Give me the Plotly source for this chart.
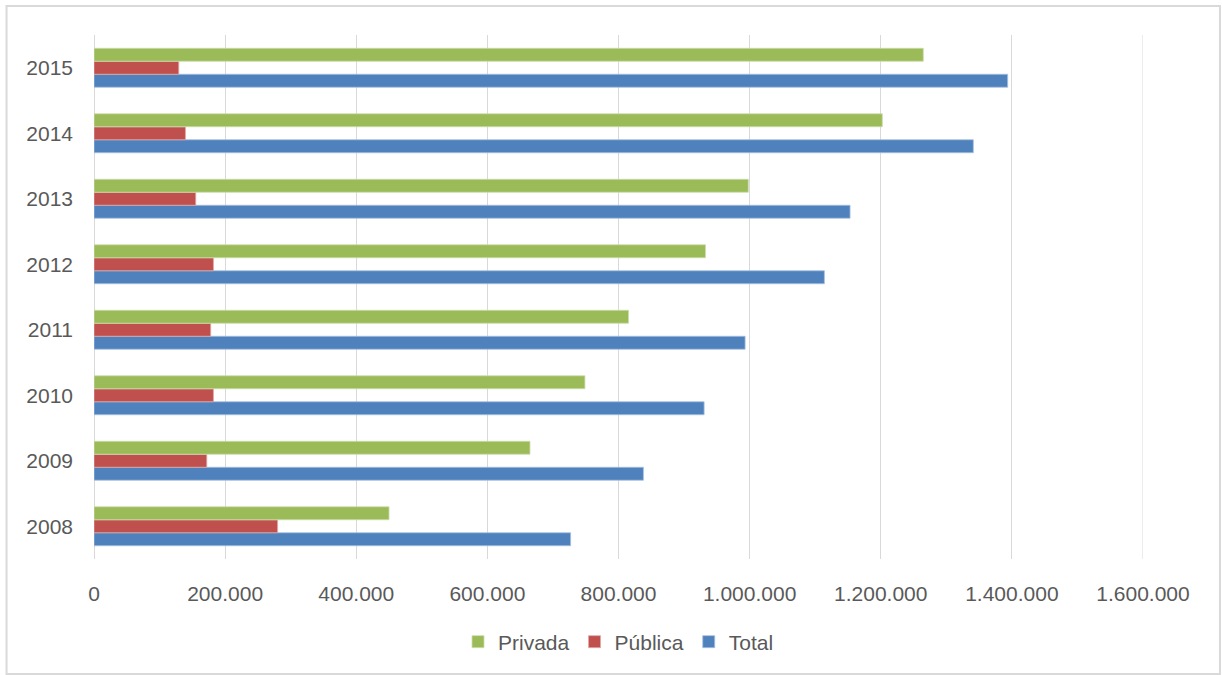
import plotly.graph_objects as go

years = ["2008", "2009", "2010", "2011", "2012", "2013", "2014", "2015"]
total = [727000, 838000, 930600, 993100, 1114000, 1153200, 1341200, 1393600]
publica = [280000, 172000, 182200, 178000, 182200, 155200, 139500, 129300]
privada = [450000, 665000, 748800, 815300, 932700, 998000, 1202400, 1264900]

x_ticks = [0, 200000, 400000, 600000, 800000, 1000000, 1200000, 1400000, 1600000]

W, H = 1222, 675
L, R, T, B = 93.5, 79, 35, 116
pw, ph = W - L - R, H - T - B

def px_to_paper_x(px):
    return (px - L) / pw

def px_to_paper_y(py):
    return (H - B - py) / ph

fig = go.Figure()
fig.add_trace(go.Bar(y=years, x=total, name="Total", orientation="h",
                     marker=dict(color="#4F81BD", line=dict(color="#A7C0DE", width=0.8))))
fig.add_trace(go.Bar(y=years, x=publica, name="Pública", orientation="h",
                     marker=dict(color="#C0504D", line=dict(color="#E0A8A6", width=0.8))))
fig.add_trace(go.Bar(y=years, x=privada, name="Privada", orientation="h",
                     marker=dict(color="#9BBB59", line=dict(color="#CDDDAC", width=0.8))))

font_family = "Liberation Sans, Arial, sans-serif"

shapes = [dict(type="rect", xref="paper", yref="paper",
               x0=px_to_paper_x(6), x1=px_to_paper_x(1220),
               y0=px_to_paper_y(674), y1=px_to_paper_y(6),
               line=dict(color="#D9D9D9", width=2), fillcolor="rgba(0,0,0,0)",
               layer="below")]
# gridline at the axis maximum (not drawn by plotly at the range edge)
shapes.append(dict(type="line", xref="x", yref="paper",
                   x0=x_ticks[-1], x1=x_ticks[-1], y0=0, y1=1,
                   line=dict(color="#D9D9D9", width=1), layer="below"))

fig.update_layout(
    width=W, height=H,
    margin=dict(l=L, r=R, t=T, b=B, pad=0),
    paper_bgcolor="white", plot_bgcolor="white",
    barmode="group", bargap=0.405, bargroupgap=0,
    separators=",.",
    font=dict(family=font_family, size=21, color="#595959"),
    showlegend=True,
    legend=dict(orientation="h", x=0.5, xanchor="center",
                y=px_to_paper_y(642), yanchor="middle",
                traceorder="reversed", font=dict(size=21, color="#595959"),
                itemwidth=30, bgcolor="rgba(0,0,0,0)"),
    xaxis=dict(range=[0, 1600000], tickvals=x_ticks, tickformat=",d",
               showgrid=True, gridcolor="#D9D9D9", gridwidth=1,
               zeroline=True, zerolinecolor="#D9D9D9", zerolinewidth=1,
               showline=False, ticks="", ticklabelstandoff=20,
               tickfont=dict(size=21, color="#595959")),
    yaxis=dict(type="category", categoryorder="array", categoryarray=years,
               showgrid=False, zeroline=False, showline=False,
               ticks="", ticklabelstandoff=20,
               tickfont=dict(size=21, color="#595959")),
    shapes=shapes,
)

fig.write_html("out.html")
